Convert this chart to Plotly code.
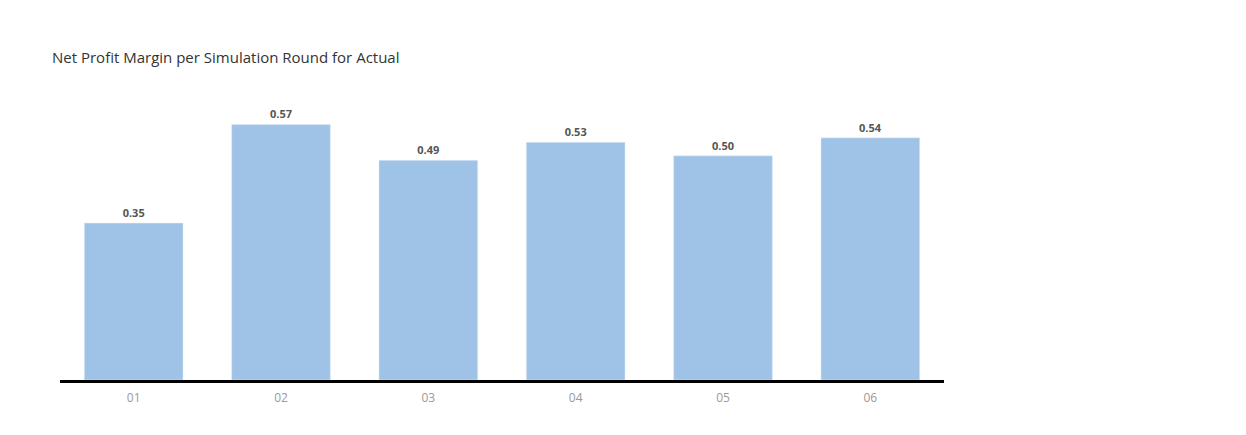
import plotly.graph_objects as go

rounds = ["01", "02", "03", "04", "05", "06"]
margin = [0.35, 0.57, 0.49, 0.53, 0.50, 0.54]
labels = ["<b>0.35</b>", "<b>0.57</b>", "<b>0.49</b>", "<b>0.53</b>", "<b>0.50</b>", "<b>0.54</b>"]

fig = go.Figure(
    go.Bar(
        x=rounds,
        y=margin,
        text=labels,
        textposition="outside",
        textfont=dict(size=11, color="#555555", family="Open Sans"),
        marker=dict(color="#9fc3e7"),
        cliponaxis=False,
    )
)

fig.update_layout(
    width=1246,
    height=435,
    margin=dict(l=52, r=310, t=94, b=63),
    plot_bgcolor="white",
    paper_bgcolor="white",
    bargap=0.33,
    showlegend=False,
    title=dict(
        text="Net Profit Margin per Simulation Round for Actual",
        x=44 / 1246, xanchor="left", y=1 - 50 / 435, yanchor="middle",
        font=dict(size=15, color="#333333", family="Open Sans"),
    ),
    xaxis=dict(
        showline=True, linecolor="black", linewidth=3,
        tickfont=dict(size=12, color="#999999", family="Open Sans"),
        ticks="", showgrid=False, ticklabelstandoff=5,
    ),
    yaxis=dict(range=[0, 0.62], visible=False, showgrid=False),
    font=dict(family="Open Sans"),
)

fig.write_html("out.html")
